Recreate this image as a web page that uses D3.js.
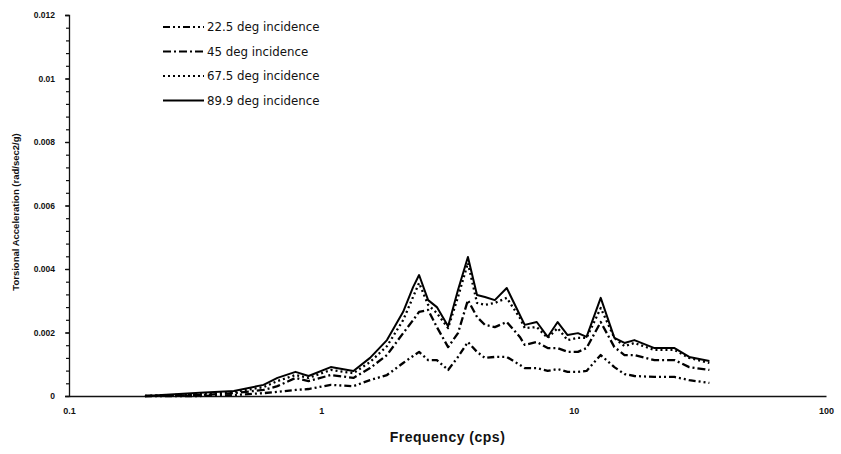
<!DOCTYPE html>
<html>
<head>
<meta charset="utf-8">
<script src="https://cdn.jsdelivr.net/npm/d3@7"></script>
<style>
    body { margin: 0; background: #fff; }
    #chart { width: 841px; height: 454px; }
</style>
</head>
<body>
<div id="chart"></div>
<script>
// frequency grid (cps) shared by all four curves
var freqs = [0.2, 0.33, 0.45, 0.59, 0.67, 0.79, 0.89, 1.09, 1.34, 1.56,
    1.82, 2.11, 2.31, 2.44, 2.65, 2.87, 3.18, 3.48, 3.81, 4.14,
    4.45, 4.87, 5.43, 6.12, 6.4, 7.14, 7.89, 8.64, 9.46, 10.4,
    11.25, 12.8, 14.5, 15.9, 17.4, 20.9, 25.1, 28.7, 34.5];

var inc22 = [0, 0, 0.00003, 0.00009, 0.00013, 0.00019, 0.00022, 0.00035, 0.00031, 0.0005,
    0.00066, 0.00104, 0.00126, 0.00139, 0.00113, 0.00113, 0.00082, 0.00123, 0.0017, 0.00139,
    0.0012, 0.00123, 0.00123, 0.00098, 0.00088, 0.00088, 0.00079, 0.00085, 0.00076, 0.00076,
    0.00079, 0.00129, 0.00091, 0.00069, 0.00063, 0.0006, 0.0006, 0.0005, 0.00041];

var inc45 = [0, 0.00003, 0.00009, 0.00019, 0.00031, 0.00057, 0.00047, 0.00066, 0.00057, 0.00088,
    0.00129, 0.00198, 0.00239, 0.00265, 0.00271, 0.00217, 0.00154, 0.00198, 0.00302, 0.00249,
    0.00224, 0.00217, 0.00233, 0.00186, 0.00161, 0.0017, 0.00151, 0.00151, 0.00139, 0.00139,
    0.00151, 0.00233, 0.00154, 0.00129, 0.00129, 0.00113, 0.00113, 0.00091, 0.00082];

var inc67 = [0, 0.00006, 0.00013, 0.00028, 0.00047, 0.00066, 0.00057, 0.00082, 0.00072, 0.00107,
    0.00157, 0.00239, 0.00312, 0.00356, 0.00287, 0.00261, 0.00214, 0.00312, 0.00419, 0.00293,
    0.00287, 0.00293, 0.00309, 0.00246, 0.00214, 0.00217, 0.00183, 0.00214, 0.00176, 0.00183,
    0.00183, 0.00277, 0.00183, 0.00157, 0.00167, 0.00145, 0.00145, 0.0012, 0.00104];

var inc90 = [0, 0.0001, 0.00016, 0.00035, 0.00057, 0.00076, 0.00063, 0.00091, 0.00079, 0.0012,
    0.00176, 0.00265, 0.00343, 0.00381, 0.00302, 0.0028, 0.0022, 0.00334, 0.00438, 0.00318,
    0.00312, 0.00302, 0.0034, 0.00255, 0.00224, 0.00233, 0.00186, 0.00233, 0.00192, 0.00198,
    0.00186, 0.00309, 0.00183, 0.00167, 0.00176, 0.00151, 0.00151, 0.00123, 0.0011];

var seriesNames = ['22.5 deg incidence', '45 deg incidence', '67.5 deg incidence', '89.9 deg incidence'];
var seriesValues = [inc22, inc45, inc67, inc90];
var dashes = ['7,3,2,3,2,3', '8,3,2,3', '2,3', null];

var xTicks = [0.1, 1, 10, 100];
var yTicks = [0, 0.002, 0.004, 0.006, 0.008, 0.01, 0.012];

var svgWidth = 841, svgHeight = 454;
var margin = { top: 15, right: 15, bottom: 58, left: 69 };

var svg = d3.select('#chart').append('svg')
    .attr('width', svgWidth)
    .attr('height', svgHeight)
    .style('font-family', '"Liberation Sans", Arial, sans-serif');

var x = d3.scaleLog()
    .domain([0.1, 100])
    .range([margin.left, svgWidth - margin.right]);

var y = d3.scaleLinear()
    .domain([0, 0.012])
    .range([svgHeight - margin.bottom, margin.top]);

// y axis: minor ticks first, then labelled ones
svg.append('g')
    .attr('transform', 'translate(' + margin.left + ',0)')
    .call(d3.axisLeft(y).tickValues(d3.range(0, 0.01201, 0.0004)).tickSize(3).tickFormat(''))
    .call(g => g.select('.domain').remove())
    .selectAll('line').attr('stroke', '#111').attr('stroke-width', 1.2);

var yAxis = svg.append('g')
    .attr('transform', 'translate(' + margin.left + ',0)')
    .call(d3.axisLeft(y).tickValues(yTicks).tickSize(4).tickPadding(10)
        .tickFormat(d => d === 0 ? '0' : d3.format('')(+d.toFixed(3))));

yAxis.select('.domain').attr('stroke', '#111').attr('stroke-width', 1.3);
yAxis.selectAll('line').attr('stroke', '#111').attr('stroke-width', 1.3);
yAxis.selectAll('text')
    .attr('fill', '#111')
    .style('font-size', '8.5px')
    .style('font-weight', 'bold');

var xAxis = svg.append('g')
    .attr('transform', 'translate(0,' + y(0) + ')')
    .call(d3.axisBottom(x).tickValues(xTicks).tickSize(0).tickPadding(12)
        .tickFormat(d => String(d)));

xAxis.select('.domain').attr('stroke', '#111').attr('stroke-width', 1.4);
xAxis.selectAll('text')
    .attr('fill', '#111')
    .style('font-size', '9px')
    .style('font-weight', 'bold');

// axis titles
svg.append('text')
    .attr('x', (x(0.1) + x(100)) / 2)
    .attr('y', 442)
    .attr('text-anchor', 'middle')
    .style('font-size', '14px')
    .style('font-weight', 'bold')
    .style('letter-spacing', '0.5px')
    .attr('fill', '#111')
    .text('Frequency (cps)');

svg.append('text')
    .attr('transform', 'translate(19,212) rotate(-90)')
    .attr('text-anchor', 'middle')
    .style('font-size', '9.5px')
    .style('font-weight', 'bold')
    .attr('fill', '#111')
    .text('Torsional Acceleration (rad/sec2/g)');

// curves
var line = d3.line()
    .x((d, i) => x(freqs[i]))
    .y(d => y(d));

svg.selectAll('.curve')
    .data(seriesValues)
    .enter().append('path')
    .attr('class', 'curve')
    .attr('d', d => line(d))
    .attr('fill', 'none')
    .attr('stroke', '#000')
    .attr('stroke-width', (d, i) => i === 3 ? 2 : 2.3)
    .attr('stroke-linejoin', 'round')
    .attr('stroke-dasharray', (d, i) => dashes[i]);

// legend
var legend = svg.append('g')
    .attr('transform', 'translate(163,27)');

var keys = legend.selectAll('.key')
    .data(seriesNames)
    .enter().append('g')
    .attr('class', 'key')
    .attr('transform', (d, i) => 'translate(0,' + (i * 24.5) + ')');

keys.append('line')
    .attr('x1', 0)
    .attr('x2', 41)
    .attr('stroke', '#000')
    .attr('stroke-width', 2)
    .attr('stroke-dasharray', (d, i) => dashes[i]);

keys.append('text')
    .attr('x', 44)
    .attr('y', 4)
    .style('font-family', '"DejaVu Sans", sans-serif')
    .style('font-size', '11.8px')
    .attr('fill', '#111')
    .text(d => d);
</script>
</body>
</html>
